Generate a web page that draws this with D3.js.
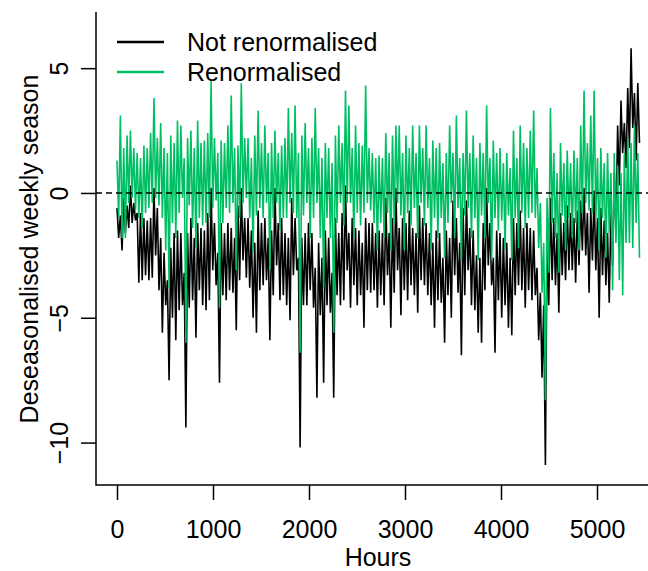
<!DOCTYPE html>
<html lang="en">

<head>
    <meta charset="UTF-8">
    <title>Deseasonalised weekly season</title>
    <script src="https://d3js.org/d3.v7.min.js"></script>
    <style>
        body {
            margin: 0;
            background: #fff;
        }

        svg text {
            font-family: "Liberation Sans", Arial, sans-serif;
            font-size: 25px;
            fill: #000;
        }
    </style>
</head>

<body>
    <div id="chart"></div>

    <script>
        // readings every 17.5 hours (top then bottom of the band)
        const hourStep = 17.5;

        const notRenormalised = [
            -0.6, -1.8, -0.9, -2.3, -0.2, -1.6, -0.5, -1.4, 0.3, -1.2,
            -0.4, -1.1, -0.8, -3.6, -0.8, -3.5, -1.0, -3.3, -1.1, -3.5,
            -1.0, -3.4, 0.2, -2.5, -0.6, -3.9, -1.8, -5.6, -2.4, -4.5,
            -3.5, -7.5, -2.2, -5.0, -1.6, -5.9, -1.5, -4.7, -1.6, -4.5,
            -3.2, -9.4, -1.6, -4.6, -1.0, -4.3, -1.8, -5.8, -1.2, -3.9,
            -1.4, -4.5, -1.5, -4.7, -0.8, -4.3, 0.2, -3.1, -1.2, -3.7,
            -2.4, -7.6, -1.2, -4.1, -1.6, -4.3, -1.2, -3.9, -1.4, -4.0,
            -1.8, -5.5, -0.5, -3.5, 0.2, -2.7, -1.0, -3.4, -1.0, -3.8,
            -1.5, -5.0, -2.0, -5.6, -0.7, -3.9, -1.2, -3.7, -1.0, -3.5,
            -1.8, -5.9, -1.5, -4.1, 0.2, -2.9, -1.2, -4.3, -1.0, -4.1,
            -1.6, -4.5, -1.8, -5.1, -0.2, -3.3, -1.0, -3.1, -2.6, -10.2,
            -1.8, -4.5, -1.6, -4.5, -1.2, -3.9, -1.6, -4.6, -3.0, -8.2,
            -2.0, -4.9, -2.6, -7.6, -1.5, -4.5, -1.8, -4.8, -3.2, -8.2,
            -1.0, -4.1, -1.6, -4.5, -0.8, -4.3, 0.3, -3.1, -1.6, -4.6,
            -1.0, -3.7, -1.4, -4.5, -1.5, -4.1, -2.0, -5.4, -1.0, -3.9,
            -1.2, -4.0, -1.2, -3.9, -1.6, -4.6, -1.5, -4.1, -1.6, -4.5,
            -0.2, -3.3, -1.6, -5.4, -1.0, -4.0, 0.2, -3.1, -1.4, -4.9,
            -1.0, -3.9, -1.2, -4.3, -0.7, -3.7, -1.4, -4.1, -1.6, -4.8,
            -0.5, -3.5, -1.0, -3.7, -1.2, -4.1, -1.6, -4.5, -2.0, -5.4,
            -1.5, -4.3, -1.6, -4.4, -2.6, -6.0, -1.5, -4.1, -1.8, -5.0,
            -0.3, -3.3, -1.0, -4.0, -2.0, -6.5, -0.6, -4.1, -0.3, -3.1,
            -1.4, -4.5, -1.5, -4.7, -2.5, -5.6, -2.6, -6.0, -1.2, -3.9,
            0.2, -2.9, -1.2, -3.7, -2.6, -6.4, -1.5, -4.3, -1.6, -5.0,
            -1.8, -4.5, -2.0, -5.4, -2.6, -5.7, -1.0, -4.1, -1.2, -3.7,
            -0.7, -3.9, -1.4, -4.6, -1.2, -3.9, -1.4, -4.3, -1.5, -4.1,
            -3.0, -5.9, -4.0, -7.4, -4.5, -10.9, -1.6, -4.5, -0.2, -3.5,
            -1.0, -3.7, -1.6, -4.8, -0.8, -3.3, -1.2, -3.5, -0.5, -3.1,
            -0.8, -3.1, -1.0, -3.6, -0.7, -2.9, -0.3, -2.3, 0.2, -2.5,
            -0.8, -4.0, -0.6, -2.7, 0.1, -3.1, -1.0, -5.0, -0.6, -3.3,
            -1.1, -3.7, -1.6, -4.4, -0.8, -2.9, 0.8, -1.4, 2.7, 0.3,
            3.7, 1.6, 2.8, 1.0, 4.2, 1.8, 5.8, 2.6, 4.0, 1.3, 4.4, 2.0
        ];

        const renormalised = [
            1.3, -1.0, 3.1, -1.8, 1.8, -1.8, 2.3, -0.4, 2.5, -0.2,
            1.8, -0.7, 1.6, -1.0, 1.4, -1.4, 1.9, -0.8, 1.8, -0.6,
            2.4, -0.4, 3.8, -0.2, 2.2, -0.5, 2.8, -1.0, 1.8, -2.3,
            1.6, -3.8, 2.3, -1.2, 2.0, -1.8, 2.9, -0.8, 2.7, -0.2,
            1.4, -6.0, 2.2, -0.5, 2.5, -1.4, 1.8, -2.2, 2.9, -1.0,
            2.0, -1.3, 2.1, -1.2, 2.4, -1.0, 4.5, -0.6, 2.2, -0.3,
            1.6, -4.6, 2.1, -1.2, 2.0, -0.6, 2.7, -0.8, 3.9, -0.4,
            1.8, -3.1, 1.9, -1.0, 4.4, -0.4, 2.2, -0.2, 2.2, -1.0,
            1.4, -2.4, 2.3, -0.9, 3.3, -0.6, 2.0, -1.0, 2.7, -0.4,
            1.6, -3.1, 2.0, -1.0, 2.5, -0.4, 1.6, -1.5, 1.9, -1.0,
            2.2, -1.0, 3.4, -0.4, 2.4, -0.8, 3.5, -1.0, 1.6, -6.4,
            2.3, -0.9, 2.8, -0.4, 1.8, -1.8, 2.2, -1.0, 3.4, -0.4,
            1.8, -1.8, 1.4, -3.8, 2.0, -1.0, 1.8, -1.8, 1.2, -5.6,
            2.3, -1.2, 2.7, -0.4, 2.0, -1.3, 4.1, -0.4, 3.5, -0.4,
            1.8, -1.8, 2.7, -0.8, 2.0, -1.3, 1.9, -0.8, 4.3, -0.4,
            1.8, -0.7, 1.6, -1.2, 1.4, -2.3, 1.5, -1.2, 1.4, -1.8,
            2.4, -0.8, 1.6, -2.3, 2.3, -1.2, 2.7, -0.4, 2.7, -0.9,
            1.6, -2.3, 2.3, -0.8, 1.8, -1.3, 2.7, -0.6, 1.6, -1.8,
            2.7, -0.4, 1.8, -1.3, 2.7, -0.6, 1.4, -2.3, 2.1, -1.0,
            1.8, -1.8, 2.0, -1.0, 1.2, -2.6, 1.6, -1.2, 2.7, -0.4,
            1.6, -1.8, 3.1, -0.6, 1.4, -2.7, 1.6, -0.9, 3.3, -0.6,
            1.6, -1.8, 2.3, -1.0, 1.4, -2.7, 2.0, -0.9, 1.6, -1.8,
            3.5, -0.4, 1.4, -2.7, 2.1, -1.0, 1.6, -1.5, 1.8, -1.1,
            1.2, -2.3, 1.6, -0.9, 1.0, -2.7, 2.5, -1.0, 1.4, -2.2,
            2.7, -0.8, 2.0, -1.4, 1.8, -1.0, 2.5, -0.8, 3.3, -1.0,
            1.0, -2.2, -0.4, -4.0, -2.0, -8.3, -0.2, -3.2, 3.4, -1.2,
            1.6, -1.8, 0.8, -3.2, 2.0, -0.9, 1.2, -2.3, 1.7, -1.0,
            1.2, -1.8, 1.7, -1.2, 1.4, -2.3, 2.7, -0.8, 4.1, -0.4,
            2.0, -0.7, 3.1, -0.8, 4.1, -1.0, 1.4, -2.3, 1.8, -1.0,
            1.2, -2.6, 1.6, -1.6, 0.8, -3.9, 1.6, -2.0, 1.1, -3.5,
            0.8, -4.1, 1.6, -2.0, 2.2, -2.0, 2.0, -2.2, 2.7, -1.2, 1.6, -2.6
        ];

        const xTicks = [0, 1000, 2000, 3000, 4000, 5000];
        const yTicks = [-10, -5, 0, 5];
        const seriesNames = ['Not renormalised', 'Renormalised'];
        const seriesColors = ['#000000', '#00BF63'];

        const width = 648;
        const height = 571;
        const plot = { left: 96, right: 648, top: 12, bottom: 485 };

        const svg = d3.select('#chart')
            .append('svg')
            .attr('width', width)
            .attr('height', height);

        const x = d3.scaleLinear()
            .domain([0, 5000])
            .range([117, 597]);

        const y = d3.scaleLinear()
            .domain([-11.7, 7.25])
            .range([plot.bottom, plot.top]);

        const line = d3.line()
            .x((d, i) => x(i * hourStep))
            .y(d => y(d));

        // series, black first so green sits on top
        [notRenormalised, renormalised].forEach((values, k) => {
            svg.append('path')
                .datum(values)
                .attr('fill', 'none')
                .attr('stroke', seriesColors[k])
                .attr('stroke-width', 1.6)
                .attr('d', line);
        });

        // dashed zero line
        svg.append('line')
            .attr('x1', plot.left)
            .attr('x2', plot.right)
            .attr('y1', y(0))
            .attr('y2', y(0))
            .attr('stroke', '#000')
            .attr('stroke-width', 1.5)
            .attr('stroke-dasharray', '6,4');

        // L shaped box
        svg.append('path')
            .attr('d', `M${plot.left},${plot.top}V${plot.bottom}H${plot.right}`)
            .attr('fill', 'none')
            .attr('stroke', '#000')
            .attr('stroke-width', 1.5);

        svg.append('g')
            .attr('transform', `translate(0,${plot.bottom})`)
            .call(d3.axisBottom(x).tickValues(xTicks).tickFormat(d3.format('d'))
                .tickSize(15).tickPadding(20))
            .call(g => g.select('.domain').remove())
            .call(g => g.selectAll('line').attr('stroke-width', 1.5))
            .call(g => g.selectAll('text').attr('font-size', null));

        svg.append('g')
            .attr('transform', `translate(${plot.left},0)`)
            .call(d3.axisLeft(y).tickValues(yTicks).tickSize(15))
            .call(g => g.select('.domain').remove())
            .call(g => g.selectAll('line').attr('stroke-width', 1.5))
            .call(g => g.selectAll('text')
                .attr('font-size', null)
                .attr('x', null)
                .attr('dy', null)
                .attr('text-anchor', 'middle')
                .attr('transform', 'translate(-28,0) rotate(-90)'));

        svg.append('text')
            .attr('x', 378)
            .attr('y', 566)
            .attr('text-anchor', 'middle')
            .text('Hours');

        svg.append('text')
            .attr('transform', 'translate(38,249) rotate(-90)')
            .attr('text-anchor', 'middle')
            .text('Deseasonalised weekly season');

        // legend
        const legend = svg.append('g');
        seriesNames.forEach((name, k) => {
            const ly = 42 + k * 30;
            legend.append('line')
                .attr('x1', 117)
                .attr('x2', 164)
                .attr('y1', ly)
                .attr('y2', ly)
                .attr('stroke', seriesColors[k])
                .attr('stroke-width', 2.5);
            legend.append('text')
                .attr('x', 187)
                .attr('y', ly + 9)
                .text(name);
        });
    </script>
</body>

</html>
